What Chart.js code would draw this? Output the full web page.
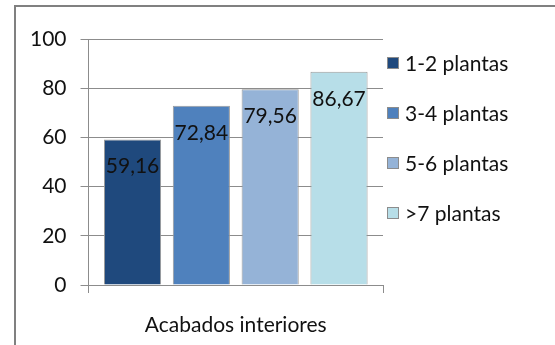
<!DOCTYPE html>
<html>
<head>
<meta charset="utf-8">
<script src="https://cdn.jsdelivr.net/npm/chart.js@4/dist/chart.umd.min.js"></script>
<style>
  html, body { margin: 0; padding: 0; background: #fff; overflow: hidden; }
  #wrap { width: 555px; height: 345px; position: relative; overflow: hidden; }
</style>
</head>
<body>
<div id="wrap"><canvas id="barChart" width="555" height="367"></canvas></div>
<script>
// datos del grafico
var categorias = ["Acabados interiores"];
var series = ["1-2 plantas", "3-4 plantas", "5-6 plantas", ">7 plantas"];
var valores = [59.16, 72.84, 79.56, 86.67];
var colores = ["#1F497D", "#4F81BD", "#95B3D7", "#B7DEE8"];
var ticksY = [0, 20, 40, 60, 80, 100];

var FUENTE = "Lato, 'Open Sans', sans-serif";
var TAM = 21;

// marco gris del grafico
var marco = {
  id: "marco",
  beforeDraw: function (chart) {
    var ctx = chart.ctx;
    ctx.save();
    ctx.fillStyle = "#fff";
    ctx.fillRect(0, 0, chart.width, chart.height);
    ctx.strokeStyle = "#808080";
    ctx.lineWidth = 2;
    ctx.strokeRect(15, 6, chart.width + 10, chart.height + 10);
    ctx.restore();
  }
};

// etiquetas de valor dentro de la barra
var etiquetas = {
  id: "etiquetas",
  afterDatasetsDraw: function (chart) {
    var ctx = chart.ctx;
    ctx.save();
    ctx.font = TAM + "px " + FUENTE;
    ctx.fillStyle = "#111";
    ctx.textAlign = "center";
    ctx.textBaseline = "middle";
    chart.data.datasets.forEach(function (ds, i) {
      var bar = chart.getDatasetMeta(i).data[0];
      var txt = ds.data[0].toFixed(2).replace(".", ",");
      ctx.fillText(txt, bar.x, bar.y + 27);
    });
    ctx.restore();
  }
};

// leyenda a la derecha
var leyenda = {
  id: "leyenda",
  afterDraw: function (chart) {
    var ctx = chart.ctx;
    ctx.save();
    ctx.font = TAM + "px " + FUENTE;
    ctx.textBaseline = "middle";
    ctx.textAlign = "left";
    chart.data.datasets.forEach(function (ds, i) {
      var y = 63 + i * 50;
      var x = chart.chartArea.right + 4;
      ctx.fillStyle = ds.backgroundColor;
      ctx.fillRect(x, y - 6, 12, 12);
      ctx.strokeStyle = "#8c8c8c";
      ctx.lineWidth = 1;
      ctx.strokeRect(x + 0.5, y - 5.5, 11, 11);
      ctx.fillStyle = "#111";
      ctx.fillText(ds.label, x + 18, y + 1);
    });
    ctx.restore();
  }
};

var datasets = series.map(function (s, i) {
  return {
    label: s,
    data: [valores[i]],
    backgroundColor: colores[i],
    borderColor: "#9a9a9a",
    borderWidth: 1,
    categoryPercentage: 0.935,
    barPercentage: 0.83
  };
});

new Chart(document.getElementById("barChart"), {
  type: "bar",
  data: { labels: categorias, datasets: datasets },
  options: {
    responsive: false,
    animation: false,
    layout: { padding: { left: 16, right: 172, top: 39, bottom: 9 } },
    plugins: {
      legend: { display: false },
      tooltip: { enabled: false }
    },
    scales: {
      x: {
        grid: {
          offset: true,
          drawOnChartArea: false,
          drawTicks: true,
          tickLength: 8,
          color: "#8c8c8c"
        },
        border: { color: "#8c8c8c", width: 1 },
        ticks: {
          color: "#111",
          padding: 22,
          font: { family: FUENTE, size: TAM, lineHeight: 1 }
        }
      },
      y: {
        min: 0,
        max: 100,
        afterBuildTicks: function (axis) {
          axis.ticks = ticksY.map(function (v) { return { value: v }; });
        },
        grid: {
          color: "#8c8c8c",
          tickLength: 8
        },
        border: { color: "#8c8c8c", width: 1 },
        ticks: {
          color: "#111",
          padding: 14,
          font: { family: FUENTE, size: TAM }
        }
      }
    }
  },
  plugins: [marco, etiquetas, leyenda]
});
</script>
</body>
</html>
